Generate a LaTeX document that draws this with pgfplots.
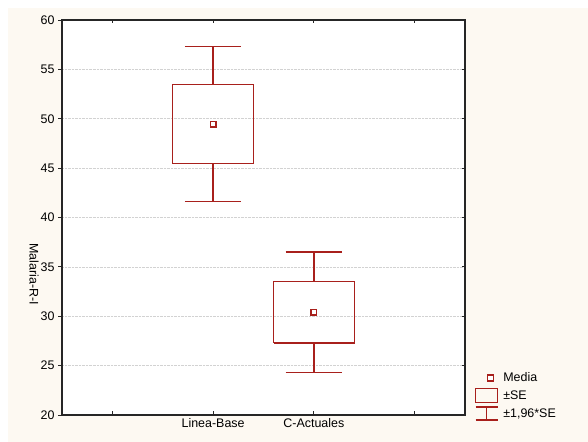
\documentclass[border=0pt]{standalone}
\usepackage{pgfplots}
\pgfplotsset{compat=1.18}
\usepackage{fontspec}
\setmainfont{Liberation Sans}
\definecolor{brickred}{RGB}{168,32,28}
\definecolor{cream}{RGB}{253,249,242}
\newcommand{\lbl}{\fontsize{12.5}{15}\selectfont}
\begin{document}
\begin{tikzpicture}[x=1bp,y=1bp]
\useasboundingbox (0,0) rectangle (588,442);
\fill[cream] (8,0) rectangle (588,434);
% left-side y ticks and labels (outward)
\begin{axis}[
  at={(62bp,27bp)}, anchor=south west,
  width=403bp, height=395bp, scale only axis,
  xmin=0.5, xmax=4.5, ymin=20, ymax=60,
  hide x axis,
  ytick={20,25,...,60},
  ytick pos=left, tick align=outside, major tick length=4bp,
  axis line style={draw=black!85, line width=1.3bp},
  every tick/.style={black!85, line width=0.9bp},
  /pgf/number format/assume math mode=true,
  tick label style={font=\lbl},
  ylabel={Malaria-R-I},
  ylabel style={font=\lbl, at={(axis description cs:-0.069,0.357)}, rotate=180, anchor=center},
  axis background/.style={fill=white},
]
\addplot[draw=none, forget plot] coordinates {(1,20)};
\end{axis}
\begin{axis}[
  at={(62bp,27bp)}, anchor=south west,
  width=403bp, height=395bp, scale only axis,
  xmin=0.5, xmax=4.5, ymin=20, ymax=60,
  xtick={1,2,3,4}, xticklabels={,Linea-Base,C-Actuales,},
  ytick={20,25,...,60}, yticklabels={},
  ytick pos=right,
  tick align=inside, major tick length=3.5bp,
  axis line style={draw=black!85, line width=1.3bp},
  every tick/.style={black!85, line width=0.9bp},
  ymajorgrids,
  major grid style={densely dotted, gray!35, line width=0.7bp},
  /pgf/number format/assume math mode=true,
  tick label style={font=\lbl},
  legend style={at={(1,0)}, anchor=south west, xshift=10bp, yshift=-7.5bp,
    draw=none, fill=none, inner sep=0pt, outer sep=0pt, font=\lbl,
    row sep=0pt, column sep=4bp, nodes={inner sep=1bp}},
  legend cell align=left,
]
\addlegendimage{legend image code/.code={
  \path[draw=none, fill=none] (0bp,-8.9bp) rectangle (22bp,8.9bp);
  \node[draw=brickred, fill=white, line width=1.3bp, minimum size=5.8bp, inner sep=0pt] at (12bp,0bp) {};}}
\addlegendentry{Media}
\addlegendimage{legend image code/.code={
  \path[draw=none, fill=none] (0bp,-8.9bp) rectangle (22bp,8.9bp);
  \draw[brickred, fill=none, line width=1.3bp] (0bp,-7bp) rectangle (22bp,7bp);}}
\addlegendentry{±SE}
\addlegendimage{legend image code/.code={
  \path[draw=none, fill=none] (0bp,-8.9bp) rectangle (22bp,8.9bp);
  \draw[brickred, fill=none, line width=1.3bp] (0bp,6.5bp) -- (22bp,6.5bp) (11bp,6.5bp) -- (11bp,-6.5bp) (0bp,-6.5bp) -- (22bp,-6.5bp);}}
\addlegendentry{±1,96*SE}

\pgfplotsset{bx/.style={forget plot, draw=brickred, line width=1.3bp, solid, mark=none}}
% Linea-Base: mean 49.45, SE box 45.45-53.5, 1.96*SE 41.6-57.3
\addplot[bx] coordinates {(1.6,45.45) (2.4,45.45) (2.4,53.5) (1.6,53.5) (1.6,45.45)};
\addplot[bx] coordinates {(2,53.5) (2,57.3)};
\addplot[bx] coordinates {(2,45.45) (2,41.6)};
\addplot[bx] coordinates {(1.72,57.3) (2.28,57.3)};
\addplot[bx] coordinates {(1.72,41.6) (2.28,41.6)};
% C-Actuales: mean 30.4, SE box 27.3-33.5, 1.96*SE 24.3-36.5
\addplot[bx] coordinates {(2.6,27.3) (3.4,27.3) (3.4,33.5) (2.6,33.5) (2.6,27.3)};
\addplot[bx] coordinates {(3,33.5) (3,36.5)};
\addplot[bx] coordinates {(3,27.3) (3,24.3)};
\addplot[bx] coordinates {(2.72,36.5) (3.28,36.5)};
\addplot[bx] coordinates {(2.72,24.3) (3.28,24.3)};
\addplot[forget plot, only marks, mark=square, mark size=2.8bp, brickred, line width=1.3bp]
  coordinates {(2,49.45) (3,30.4)};
\end{axis}
\end{tikzpicture}
\end{document}
